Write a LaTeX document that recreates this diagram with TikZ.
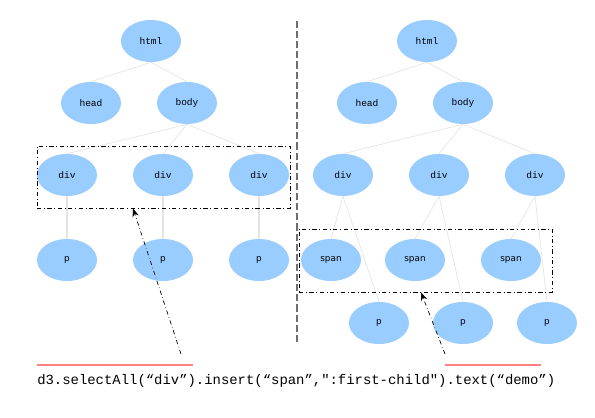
\documentclass[tikz,border=0pt]{standalone}
\usepackage{fontspec}
\setmainfont{DejaVu Sans}
\newfontfamily\codefont{Liberation Mono}
\usetikzlibrary{arrows.meta,positioning,shapes.geometric}

\definecolor{nodeblue}{RGB}{153,204,255}
\definecolor{edgegray}{RGB}{228,228,228}
\definecolor{markred}{RGB}{255,128,128}
\definecolor{sepgray}{RGB}{110,110,110}

\tikzset{
  domnode/.style={ellipse, fill=nodeblue, inner sep=0pt,
    minimum width=1.5cm, minimum height=1.05cm,
    font=\codefont\fontsize{6.8}{8}\selectfont},
  txtnode/.style={domnode, font=\fontsize{6.3}{8}\selectfont},
  link/.style={draw=edgegray, line width=0.5pt},
  thicklink/.style={draw=edgegray, line width=1.4pt},
  selbox/.style={draw, dash dot, line width=0.5pt, inner sep=0pt},
  pointer/.style={-{Stealth[length=6pt,width=4.5pt]}, dash dot, line width=0.5pt}
}

\begin{document}
\begin{tikzpicture}[>=Stealth, x=0.025cm, y=-0.025cm]
            \useasboundingbox (0,0) rectangle (595,418);

            % left tree
            \node[domnode] (lhtml) at (151,41) {html};
            \node[domnode] (lhead) at (91,103) {head};
            \node[domnode] (lbody) at (187,103) {body};
            \node[domnode] (ldiv1) at (67,175) {div};
            \node[domnode] (ldiv2) at (163,175) {div};
            \node[domnode] (ldiv3) at (259,175) {div};
            \node[txtnode] (lp1) at (67,260) {p};
            \node[txtnode] (lp2) at (163,260) {p};
            \node[txtnode] (lp3) at (259,260) {p};

            \draw[link] (lhtml.south) -- (lhead.north);
            \draw[link] (lhtml.south) -- (lbody.north);
            \draw[link] (lbody.south) -- (ldiv1.north);
            \draw[link] (lbody.south) -- (ldiv2.north);
            \draw[link] (lbody.south) -- (ldiv3.north);
            \draw[thicklink] (ldiv1.south) -- (lp1.north);
            \draw[thicklink] (ldiv2.south) -- (lp2.north);
            \draw[thicklink] (ldiv3.south) -- (lp3.north);

            \node[selbox, minimum width=6.325cm, minimum height=1.55cm] (lsel) at (163.5,177) {};

            % right tree
            \node[domnode] (rhtml) at (427,41) {html};
            \node[domnode] (rhead) at (367,103) {head};
            \node[domnode] (rbody) at (463,103) {body};
            \node[domnode] (rdiv1) at (343,175) {div};
            \node[domnode] (rdiv2) at (439,175) {div};
            \node[domnode] (rdiv3) at (535,175) {div};
            \node[txtnode] (rspan1) at (331,260) {span};
            \node[txtnode] (rspan2) at (415,260) {span};
            \node[txtnode] (rspan3) at (511,260) {span};
            \node[txtnode] (rp1) at (379,323) {p};
            \node[txtnode] (rp2) at (463,323) {p};
            \node[txtnode] (rp3) at (547,323) {p};

            \draw[link] (rhtml.south) -- (rhead.north);
            \draw[link] (rhtml.south) -- (rbody.north);
            \draw[link] (rbody.south) -- (rdiv1.north);
            \draw[link] (rbody.south) -- (rdiv2.north);
            \draw[link] (rbody.south) -- (rdiv3.north);
            \draw[link] (rdiv1.south) -- (rspan1.north);
            \draw[link] (rdiv1.south) -- (rp1.north);
            \draw[link] (rdiv2.south) -- (rspan2.north);
            \draw[link] (rdiv2.south) -- (rp2.north);
            \draw[link] (rdiv3.south) -- (rspan3.north);
            \draw[link] (rdiv3.south) -- (rp3.north);

            \node[selbox, minimum width=6.325cm, minimum height=1.575cm] (rsel) at (425.5,260.5) {};

            % separator
            \coordinate (septop) at (297,21);
            \coordinate (sepbot) at (297,343);
            \draw[sepgray, line width=1pt, dash pattern=on 5pt off 2.2pt] (septop) -- (sepbot);

            % code line
            \node[anchor=base west, inner sep=0pt, font=\codefont\fontsize{9.9}{12}\selectfont]
                (code) at (37,385) {d3.selectAll(“div”).insert(“span”,":first-child").text(“demo”)};
            \coordinate (redA1) at (37,365);
            \coordinate (redA2) at (193,365);
            \coordinate (redB1) at (445,365);
            \coordinate (redB2) at (541,365);
            \draw[markred, line width=1.5pt] (redA1) -- (redA2);
            \draw[markred, line width=1.5pt] (redB1) -- (redB2);

            % pointers
            \coordinate (ltail) at (181,354);
            \coordinate (rtail) at (445,354);
            \draw[pointer] (ltail) -- (lsel.south -| 133,0);
            \draw[pointer] (rtail) -- (rsel.south -| 421,0);
        \end{tikzpicture}
\end{document}
